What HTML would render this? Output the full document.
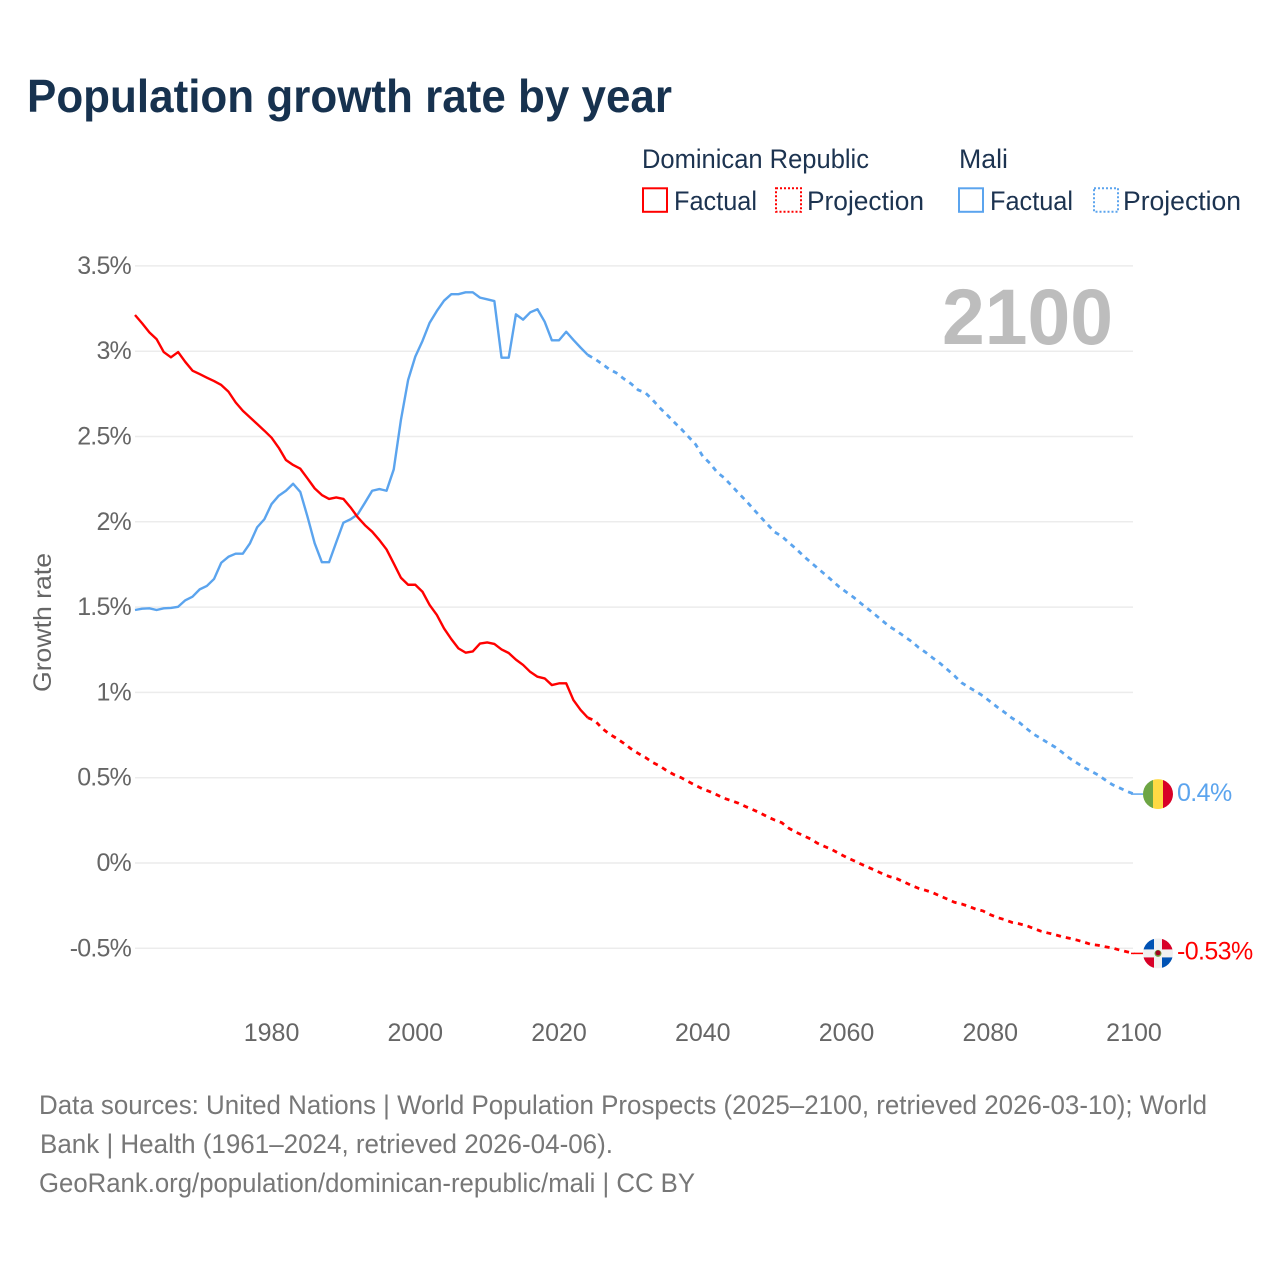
<!DOCTYPE html>
<html lang="en">
<head>
<meta charset="utf-8">
<title>Population growth rate by year</title>
<style>
html,body{margin:0;padding:0;background:#fff;}
svg{display:block;font-family:"Liberation Sans",sans-serif;}
</style>
</head>
<body>
<svg id="chart" width="1280" height="1280" viewBox="0 0 1280 1280" xmlns="http://www.w3.org/2000/svg">
  <rect width="1280" height="1280" fill="#ffffff"/>
  <text x="27" y="112" font-size="46" font-weight="700" fill="#17324f" textLength="645" lengthAdjust="spacingAndGlyphs">Population growth rate by year</text>

  <g font-size="27" fill="#1c3350">
    <text x="642" y="168" textLength="227" lengthAdjust="spacingAndGlyphs">Dominican Republic</text>
    <text x="959" y="168" textLength="49" lengthAdjust="spacingAndGlyphs">Mali</text>
    <rect x="643" y="188.3" width="24" height="23.5" fill="none" stroke="#ff0000" stroke-width="2"/>
    <text x="674" y="210" textLength="83" lengthAdjust="spacingAndGlyphs">Factual</text>
    <rect x="776" y="188.3" width="25" height="23.5" fill="none" stroke="#ff0000" stroke-width="2" stroke-dasharray="2 2"/>
    <text x="807" y="210" textLength="117" lengthAdjust="spacingAndGlyphs">Projection</text>
    <rect x="959" y="188.3" width="24" height="23.5" fill="none" stroke="#5ba4ee" stroke-width="2"/>
    <text x="990" y="210" textLength="83" lengthAdjust="spacingAndGlyphs">Factual</text>
    <rect x="1094" y="188.3" width="24" height="23.5" fill="none" stroke="#5ba4ee" stroke-width="2" stroke-dasharray="2 2"/>
    <text x="1123" y="210" textLength="118" lengthAdjust="spacingAndGlyphs">Projection</text>
  </g>

  <g id="grid"></g>
  <g id="yticks" font-size="25" fill="#666666" text-anchor="end"></g>
  <g id="xticks" font-size="25" fill="#666666" text-anchor="middle"></g>
  <text transform="translate(51 692) rotate(-90)" font-size="25" fill="#666666" textLength="139" lengthAdjust="spacingAndGlyphs">Growth rate</text>
  <text x="942" y="344" font-size="79" font-weight="700" fill="#bdbdbd" textLength="171" lengthAdjust="spacingAndGlyphs">2100</text>

  <g id="series"></g>
  <g id="flags"></g>

  <g font-size="27" fill="#777777">
    <text x="39" y="1114" textLength="1168" lengthAdjust="spacingAndGlyphs">Data sources: United Nations | World Population Prospects (2025–2100, retrieved 2026-03-10); World</text>
    <text x="40" y="1153" textLength="573" lengthAdjust="spacingAndGlyphs">Bank | Health (1961–2024, retrieved 2026-04-06).</text>
    <text x="39" y="1192" textLength="656" lengthAdjust="spacingAndGlyphs">GeoRank.org/population/dominican-republic/mali | CC BY</text>
  </g>
</svg>
<script>
const yTickValues = [-0.5, 0, 0.5, 1, 1.5, 2, 2.5, 3, 3.5];
const xTickValues = [1980, 2000, 2020, 2040, 2060, 2080, 2100];
const factualStartYear = 1961;
const projectionStartYear = 2025;

const dominicanFactual = [
  3.212, 3.163, 3.11, 3.071, 2.995, 2.964, 2.995, 2.937, 2.886, 2.866,
  2.845, 2.825, 2.802, 2.763, 2.70, 2.651, 2.612, 2.573, 2.534, 2.493,
  2.434, 2.362, 2.333, 2.311, 2.254, 2.196, 2.157, 2.134, 2.143, 2.134,
  2.084, 2.026, 1.98, 1.942, 1.893, 1.838, 1.756, 1.672, 1.631, 1.631,
  1.59, 1.512, 1.454, 1.375, 1.313, 1.258, 1.233, 1.24, 1.286, 1.293,
  1.284, 1.252, 1.231, 1.192, 1.161, 1.12, 1.092, 1.082, 1.043, 1.053,
  1.053, 0.955, 0.897, 0.852
];
const dominicanProjection = [
  0.834, 0.789, 0.756, 0.731, 0.702, 0.670, 0.643, 0.619, 0.590, 0.569,
  0.541, 0.518, 0.500, 0.477, 0.455, 0.434, 0.418, 0.399, 0.379, 0.365,
  0.350, 0.330, 0.312, 0.293, 0.271, 0.252, 0.236, 0.203, 0.180, 0.160,
  0.141, 0.115, 0.096, 0.078, 0.055, 0.033, 0.014, -0.006, -0.025, -0.043,
  -0.063, -0.080, -0.092, -0.111, -0.131, -0.148, -0.160, -0.174, -0.193, -0.211,
  -0.230, -0.240, -0.254, -0.271, -0.281, -0.303, -0.320, -0.332, -0.348, -0.356,
  -0.367, -0.383, -0.399, -0.410, -0.420, -0.432, -0.441, -0.451, -0.463, -0.477,
  -0.482, -0.491, -0.498, -0.510, -0.520, -0.53
];
const maliFactual = [
  1.483, 1.491, 1.493, 1.483, 1.493, 1.495, 1.502, 1.540, 1.561, 1.604,
  1.624, 1.665, 1.760, 1.795, 1.813, 1.813, 1.874, 1.968, 2.015, 2.104,
  2.153, 2.182, 2.223, 2.175, 2.030, 1.874, 1.763, 1.763, 1.880, 1.995,
  2.015, 2.044, 2.112, 2.182, 2.192, 2.182, 2.307, 2.597, 2.831, 2.968,
  3.06, 3.167, 3.236, 3.296, 3.334, 3.334, 3.345, 3.345, 3.314, 3.304,
  3.294, 2.962, 2.962, 3.216, 3.185, 3.228, 3.246, 3.173, 3.064, 3.064,
  3.114, 3.066, 3.021, 2.978
];
const maliProjection = [
  2.954, 2.925, 2.894, 2.872, 2.839, 2.810, 2.773, 2.757, 2.716, 2.669,
  2.628, 2.585, 2.544, 2.499, 2.454, 2.384, 2.343, 2.290, 2.257, 2.212,
  2.167, 2.124, 2.077, 2.030, 1.985, 1.940, 1.915, 1.877, 1.841, 1.800,
  1.763, 1.727, 1.692, 1.655, 1.618, 1.587, 1.557, 1.522, 1.489, 1.455,
  1.420, 1.385, 1.360, 1.329, 1.300, 1.264, 1.235, 1.202, 1.171, 1.135,
  1.098, 1.057, 1.030, 1.006, 0.979, 0.946, 0.913, 0.883, 0.850, 0.825,
  0.790, 0.756, 0.731, 0.705, 0.680, 0.649, 0.615, 0.588, 0.561, 0.539,
  0.516, 0.487, 0.459, 0.440, 0.420, 0.404
];

const SVGNS = 'http://www.w3.org/2000/svg';
const RED = '#ff0000';
const BLUE = '#5ba4ee';
const PLOT_LEFT = 135;
const PLOT_RIGHT = 1133;
const FLAG_X = 1158;
const FLAG_R = 15;

function xScale(year) { return 135 + (year - 1961) * 7.187; }
function yScale(value) { return 863 - value * 170.6; }
function fmtTick(v) { return v + '%'; }

function make(tag, attrs, parent) {
  const el = document.createElementNS(SVGNS, tag);
  for (const k in attrs) el.setAttribute(k, attrs[k]);
  parent.appendChild(el);
  return el;
}

const gridG = document.getElementById('grid');
const yTickG = document.getElementById('yticks');
const xTickG = document.getElementById('xticks');
const seriesG = document.getElementById('series');
const flagsG = document.getElementById('flags');

yTickValues.forEach(function (v) {
  const line = make('line', { x1: PLOT_LEFT, x2: PLOT_RIGHT, y1: yScale(v), y2: yScale(v), stroke: '#ececec', 'stroke-width': 1.5 }, gridG);
  
  
  const label = make('text', { x: 131, y: yScale(v) + 8, 'letter-spacing': '-0.8' }, yTickG);
  
  
  label.textContent = fmtTick(v);
});

xTickValues.forEach(function (yr) {
  const label = make('text', { x: xScale(yr), y: 1041 }, xTickG);
  
  
  label.textContent = String(yr);
});

function pointsFor(values, startYear, prefix) {
  const pts = prefix ? [prefix] : [];
  values.forEach(function (v, i) {
    pts.push(xScale(startYear + i).toFixed(2) + ',' + yScale(v).toFixed(2));
  });
  return pts;
}

function drawSeries(values, startYear, color, dash, name, prefixPoint) {
  const attrs = { points: pointsFor(values, startYear, prefixPoint).join(' '), fill: 'none', stroke: color, 'stroke-width': dash ? 2.8 : 2.4, 'stroke-linejoin': 'round' };
  if (dash) attrs['stroke-dasharray'] = dash;
  const line = make('polyline', attrs, seriesG);
  
  
}

function lastPoint(values, startYear) {
  const i = values.length - 1;
  return xScale(startYear + i).toFixed(2) + ',' + yScale(values[i]).toFixed(2);
}

drawSeries(maliFactual, factualStartYear, BLUE, null, 'mali-factual-line');
drawSeries(maliProjection, projectionStartYear, BLUE, '5 5', 'mali-projection-line', lastPoint(maliFactual, factualStartYear));
drawSeries(dominicanFactual, factualStartYear, RED, null, 'dominican-factual-line');
drawSeries(dominicanProjection, projectionStartYear, RED, '5 5', 'dominican-projection-line', lastPoint(dominicanFactual, factualStartYear));

function clipCircle(id, cy) {
  const defs = make('clipPath', { id: id }, flagsG);
  make('circle', { cx: FLAG_X, cy: cy, r: FLAG_R }, defs);
}

function leader(value, color, name) {
  const y = yScale(value);
  const line = make('line', { x1: xScale(2100) - 3, x2: FLAG_X - FLAG_R, y1: y, y2: y, stroke: color, 'stroke-width': 1.5 }, flagsG);
  
  
}

function valueLabel(value, color, name) {
  const label = make('text', { x: 1177, y: yScale(value) + 6, 'font-size': 25, fill: color, 'letter-spacing': '-0.6' }, flagsG);
  
  
  label.textContent = value.toFixed(2).replace(/0$/, '') + '%';
}

const maliEnd = maliProjection[maliProjection.length - 1];
const domEnd = dominicanProjection[dominicanProjection.length - 1];
const maliDisplay = Math.round(maliEnd * 100) / 100;
const maliY = yScale(maliEnd);
const domY = yScale(domEnd);

leader(maliEnd, BLUE, 'mali-leader-line');
leader(domEnd, RED, 'dominican-leader-line');

clipCircle('clip-mali', maliY);
const maliFlag = make('g', { 'clip-path': 'url(#clip-mali)' }, flagsG);


make('rect', { x: FLAG_X - FLAG_R, y: maliY - FLAG_R, width: 10, height: 30, fill: '#6da544' }, maliFlag);
make('rect', { x: FLAG_X - 5, y: maliY - FLAG_R, width: 10, height: 30, fill: '#ffda44' }, maliFlag);
make('rect', { x: FLAG_X + 5, y: maliY - FLAG_R, width: 10, height: 30, fill: '#d80027' }, maliFlag);

clipCircle('clip-dom', domY);
const domFlag = make('g', { 'clip-path': 'url(#clip-dom)' }, flagsG);


make('rect', { x: FLAG_X - FLAG_R, y: domY - FLAG_R, width: 30, height: 30, fill: '#f0f0f0' }, domFlag);
make('rect', { x: FLAG_X - FLAG_R, y: domY - FLAG_R, width: 11, height: 11, fill: '#0052b4' }, domFlag);
make('rect', { x: FLAG_X + 4, y: domY - FLAG_R, width: 11, height: 11, fill: '#d80027' }, domFlag);
make('rect', { x: FLAG_X - FLAG_R, y: domY + 4, width: 11, height: 11, fill: '#d80027' }, domFlag);
make('rect', { x: FLAG_X + 4, y: domY + 4, width: 11, height: 11, fill: '#0052b4' }, domFlag);
make('circle', { cx: FLAG_X, cy: domY, r: 3.5, fill: '#6da544' }, domFlag);
make('circle', { cx: FLAG_X, cy: domY - 0.5, r: 2.5, fill: '#a2001d' }, domFlag);

valueLabel(maliDisplay, BLUE, 'mali-end-value');
valueLabel(domEnd, RED, 'dominican-end-value');
</script>
</body>
</html>
